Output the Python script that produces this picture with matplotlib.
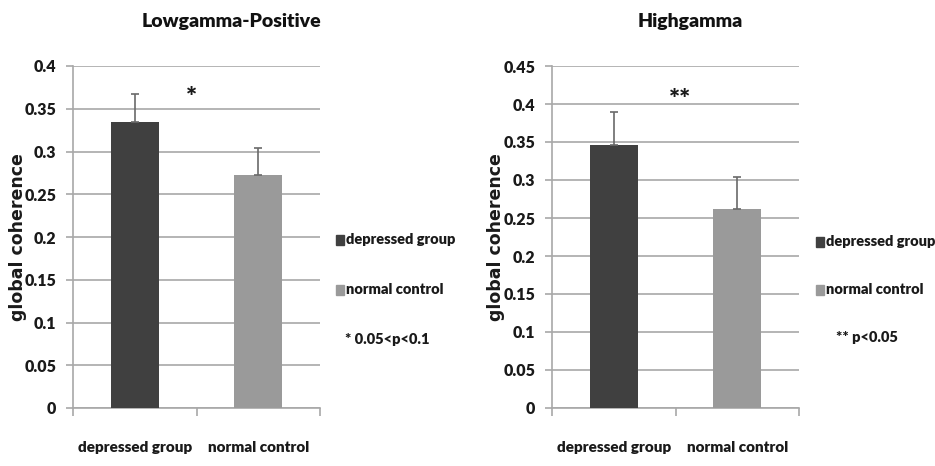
import matplotlib
matplotlib.use("Agg")
import matplotlib.pyplot as plt
from matplotlib.patches import Rectangle

groups = ["depressed group", "normal control"]
low_means = [0.335, 0.272]
low_err = [0.032, 0.032]
high_means = [0.346, 0.262]
high_err = [0.043, 0.042]
titles = ["Lowgamma-Positive", "Highgamma"]
stars = ["*", "**"]
notes = ["* 0.05<p<0.1", "** p<0.05"]
ylims = [0.4, 0.45]

W, H = 935, 466
plt.rcParams["font.family"] = ["Lato", "DejaVu Sans"]
fig = plt.figure(figsize=(W / 100, H / 100), dpi=100)

def px_axes(x0, y0, x1, y1):
    return fig.add_axes([x0 / W, 1 - y1 / H, (x1 - x0) / W, (y1 - y0) / H])

colors = ["#404040", "#9a9a9a"]
gridc = "#a8a8a8"
txtc = "#1a1a1a"
wt = "heavy"

panels = [
    (px_axes(73, 66, 320, 408), low_means, low_err, 0),
    (px_axes(552, 66, 799, 408), high_means, high_err, 1),
]
title_pos = [(231, 22), (690, 22)]
star_pos = [(0.46, 0.362), (0.54, 0.405)]
ylab_x = [-0.185, -0.19]

for ax, means, errs, i in panels:
    x = range(len(groups))
    ax.bar(x, means, width=0.39, color=colors, zorder=3)
    ax.errorbar(x, means, yerr=[[0, 0], errs], fmt="none", ecolor="#6a6a6a",
                elinewidth=1.2, capsize=3, capthick=1.2, zorder=4)
    ax.set_xlim(-0.5, 1.5)
    ax.set_ylim(0, ylims[i])
    n = int(round(ylims[i] / 0.05))
    ax.set_yticks([k * 0.05 for k in range(n + 1)])
    ax.set_yticklabels(["0" if k == 0 else f"{k*0.05:g}" for k in range(n + 1)],
                       fontsize=11.5, fontweight=wt, color=txtc)
    ax.yaxis.grid(True, color=gridc, lw=1.2, zorder=0)
    ax.set_xticks([0, 1])
    ax.set_xticklabels(groups, fontsize=11, fontweight=wt, color=txtc)
    ax.set_xticks([-0.5, 0.5, 1.5], minor=True)
    ax.tick_params(axis="x", which="major", length=0, pad=24)
    ax.tick_params(axis="x", which="minor", length=6, color=gridc, width=1.2)
    ax.tick_params(axis="y", length=5, color=gridc, width=1.2, pad=7)
    for s in ["top", "right"]:
        ax.spines[s].set_visible(False)
    for s in ["left", "bottom"]:
        ax.spines[s].set_color(gridc)
        ax.spines[s].set_linewidth(1.2)
    ax.set_ylabel("global coherence", fontsize=12.5, fontweight="bold",
                  family=["DejaVu Sans"], color=txtc)
    ax.yaxis.set_label_coords(ylab_x[i], 0.5)
    fig.text(title_pos[i][0] / W, 1 - title_pos[i][1] / H, titles[i], fontsize=14,
             fontweight=wt, ha="center", va="center", color="#111111")
    ax.text(star_pos[i][0], star_pos[i][1], stars[i], ha="center", va="center",
            fontsize=19, fontweight=wt, color=txtc)

# legends on the right of each panel
for lx, ys, note_x, note in [(340, (240, 290, 340), 345, notes[0]),
                             (820, (242, 290, 338), 836, notes[1])]:
    for y, c, lab in zip(ys[:2], colors, groups):
        fig.patches.append(Rectangle(((lx - 4) / W, 1 - (y + 5) / H), 8 / W, 10 / H,
                                     transform=fig.transFigure, color=c))
        fig.text((lx + 6) / W, 1 - y / H, lab, fontsize=10.5, fontweight=wt,
                 va="center", ha="left", color=txtc)
    fig.text(note_x / W, 1 - ys[2] / H, note, fontsize=10.5, fontweight=wt,
             va="center", ha="left", color=txtc)

fig.savefig("out.png", dpi=100, facecolor="white")
